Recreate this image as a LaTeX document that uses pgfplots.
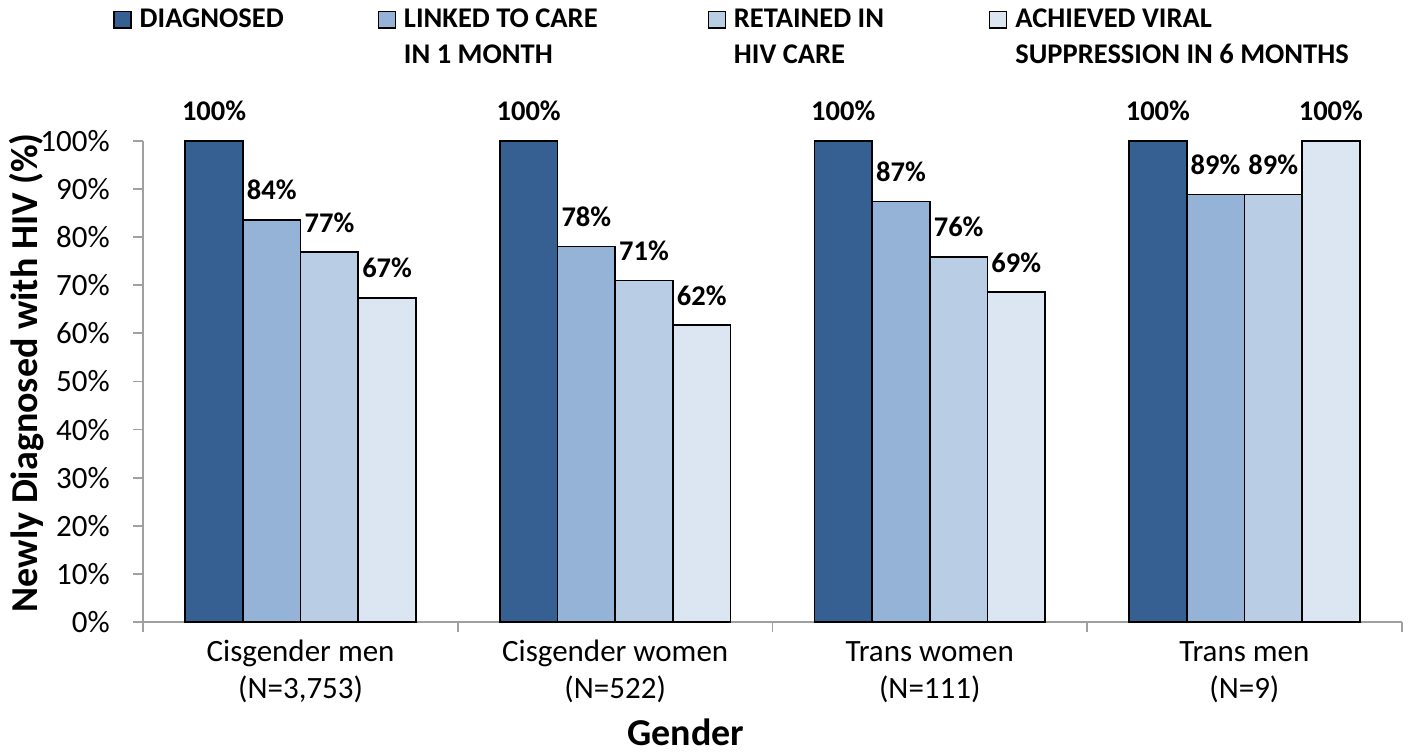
\documentclass[border=0pt]{standalone}
\usepackage{pgfplots}
\pgfplotsset{compat=1.18}
\usepackage{fontspec}
\setmainfont{Carlito}

\definecolor{diag}{HTML}{376092}
\definecolor{linked}{HTML}{95B3D7}
\definecolor{retained}{HTML}{B9CDE5}
\definecolor{viral}{HTML}{DCE6F2}
\definecolor{axisgray}{HTML}{A0A0A0}

% legend text in a fixed-width box, first line on the baseline
\newcommand{\legentry}[2]{\makebox[#1][l]{\begin{tabular}[t]{@{}l@{}}#2\end{tabular}}}

\begin{document}
\begin{tikzpicture}
\useasboundingbox (-143.3pt,-132pt) rectangle (1266.7pt,622pt);
\begin{axis}[
  at={(0pt,0pt)}, anchor=south west,
  scale only axis,
  width=1258.4pt, height=481pt,
  ymin=0, ymax=100,
  xmin=-0.5, xmax=3.5,
  clip=false,
  axis x line*=bottom, axis y line*=left,
  axis line style={draw=axisgray, line width=1.8pt},
  ybar, bar width=0.1833,
  ytick={0,10,...,100},
  yticklabel={\pgfmathprintnumber{\tick}\%},
  /pgf/number format/assume math mode=true,
  y tick label style={font=\fontsize{31}{37}\selectfont, xshift=-20pt},
  ytick style={draw=axisgray, line width=1.8pt},
  tick align=outside, major tick length=10pt,
  xtick={0,1,2,3},
  xticklabels={Cisgender men\\(N=3{,}753), Cisgender women\\(N=522), Trans women\\(N=111), Trans men\\(N=9)},
  x tick label style={font=\fontsize{31}{37}\selectfont, align=center, anchor=base, yshift=-66pt},
  xtick style={draw=none},
  extra x ticks={-0.5,0.5,1.5,2.5,3.5},
  extra x tick labels={},
  extra x tick style={xtick style={draw=axisgray, line width=1.8pt}, major tick length=10pt},
  every axis y label/.style={at={(axis description cs:-0.0925,0.518)}, rotate=90, anchor=center},
  ylabel={\fontsize{38}{42}\selectfont\bfseries Newly Diagnosed with HIV (\%)},
  every axis x label/.style={at={(axis description cs:0.431,0)}, anchor=base, yshift=-123pt},
  xlabel={\fontsize{38}{42}\selectfont\bfseries Gender},
  nodes near coords={\pgfmathprintnumber[fixed,precision=0]{\pgfplotspointmeta}\%},
  every node near coord/.append style={font=\fontsize{28.5}{34}\selectfont\bfseries, anchor=base, yshift=20pt, text=black},
  legend columns=4,
  legend style={at={(0,1)}, anchor=north west, xshift=-30pt, yshift=139pt,
    draw=none, fill=none, inner sep=0pt, outer sep=0pt,
    column sep=0pt, row sep=0pt,
    font=\fontsize{28.5}{36}\selectfont\bfseries,
    nodes={inner sep=0pt, outer sep=0pt, anchor=base west}},
  legend image code/.code={%
    \path[draw=none, fill=none] (0pt,0pt) rectangle (25.7pt,1pt);
    \draw[#1, draw=black, line width=1.5pt] (0pt,-1pt) rectangle (17pt,15.6pt);},
]
% Diagnosed
\addplot[fill=diag, draw=black, line width=1.6pt, bar shift=-0.275]
  coordinates {(0,100) (1,100) (2,100) (3,100)};
% Linked to care in 1 month
\addplot[fill=linked, draw=black, line width=1.6pt, bar shift=-0.0917]
  coordinates {(0,83.6) (1,78.1) (2,87.4) (3,88.9)};
% Retained in HIV care
\addplot[fill=retained, draw=black, line width=1.6pt, bar shift=0.0917]
  coordinates {(0,76.9) (1,71.0) (2,75.9) (3,88.9)};
% Achieved viral suppression in 6 months
\addplot[fill=viral, draw=black, line width=1.6pt, bar shift=0.275]
  coordinates {(0,67.4) (1,61.7) (2,68.6) (3,100)};
\legend{\legentry{237.8pt}{DIAGNOSED},
        \legentry{303.5pt}{LINKED TO CARE\\IN 1 MONTH},
        \legentry{255pt}{RETAINED IN\\HIV CARE},
        \legentry{345pt}{ACHIEVED VIRAL\\SUPPRESSION IN 6 MONTHS}}
\end{axis}
\end{tikzpicture}
\end{document}
